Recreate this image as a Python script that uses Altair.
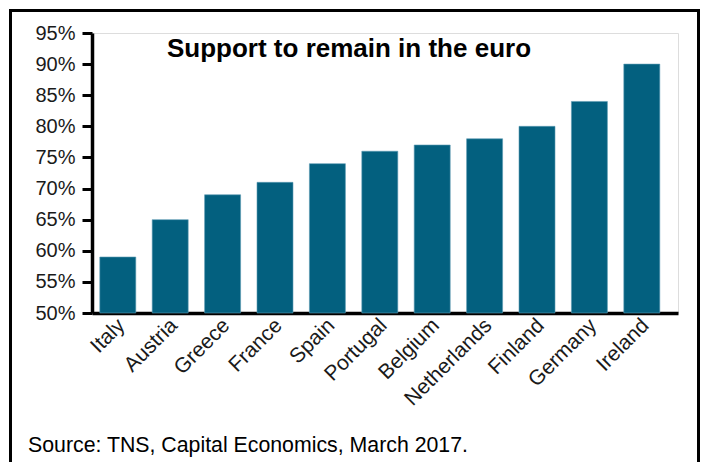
import altair as alt
import pandas as pd

countries = ["Italy", "Austria", "Greece", "France", "Spain", "Portugal",
             "Belgium", "Netherlands", "Finland", "Germany", "Ireland"]
support = [59, 65, 69, 71, 74, 76, 77, 78, 80, 84, 90]
y_ticks = [50, 55, 60, 65, 70, 75, 80, 85, 90, 95]
title_text = "Support to remain in the euro"
source_text = "Source: TNS, Capital Economics, March 2017."

df = pd.DataFrame({"country": countries, "support": support})
one = pd.DataFrame({"a": [0]})

FONT = "Liberation Sans"

bars = alt.Chart(df).mark_bar(color="#03607f", stroke="#5d9bb3", strokeWidth=0.6).encode(
    x=alt.X("country:N", sort=countries,
            scale=alt.Scale(paddingInner=0.313, paddingOuter=0.248, align=0.3),
            axis=alt.Axis(title=None, labelAngle=-45, labelAlign="right",
                          labelBaseline="middle", ticks=False, labelPadding=9,
                          labelOffset=4,
                          labelFontSize=21, labelFont=FONT, labelColor="#1a1a1a",
                          domainColor="black", domainWidth=3.5)),
    y=alt.Y("support:Q", scale=alt.Scale(domain=[50, 95], zero=False, nice=False),
            axis=alt.Axis(title=None, values=y_ticks, labelExpr="datum.value + '%'",
                          grid=False, tickSize=10, tickWidth=3, tickColor="black",
                          labelPadding=7, labelFontSize=20, labelFont=FONT,
                          labelColor="#1a1a1a", domainColor="black", domainWidth=3.5)),
    y2=alt.datum(50),
)

title = alt.Chart(one).mark_text(text=title_text, font=FONT, fontSize=26, fontWeight="bold",
                                 align="center", baseline="alphabetic", color="black").encode(
    x=alt.value(257), y=alt.value(24))

source = alt.Chart(one).mark_text(text=source_text, font=FONT, fontSize=21.3,
                                  align="left", baseline="alphabetic", color="black").encode(
    x=alt.value(-64), y=alt.value(419))

frame = alt.Chart(one).mark_rect(fill="transparent", stroke="black", strokeWidth=3).encode(
    x=alt.value(-81.5), x2=alt.value(606.5), y=alt.value(-22.5), y2=alt.value(445))

chart = alt.layer(frame, bars, title, source).properties(
    width=586, height=280,
    autosize=alt.AutoSizeParams(type="none"),
    padding={"left": 92, "top": 33, "right": 24, "bottom": 149},
).configure_view(stroke=None).configure(background="white")

chart.save("out.html", embed_options={"renderer": "svg", "actions": False})
